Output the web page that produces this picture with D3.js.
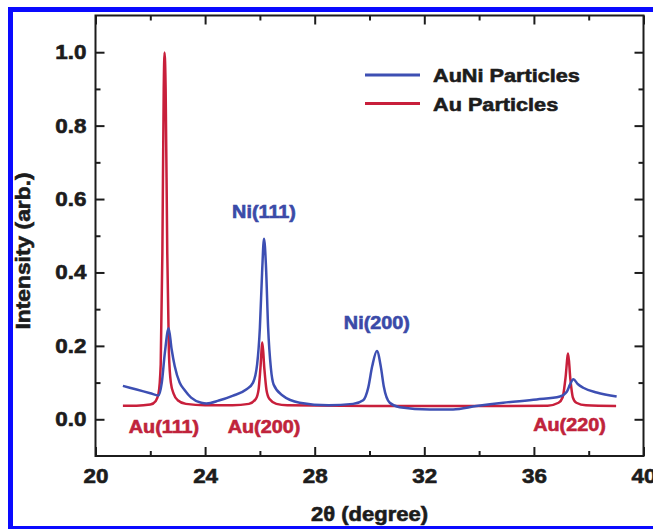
<!DOCTYPE html>
<html>
<head>
<meta charset="utf-8">
<script src="https://cdn.jsdelivr.net/npm/d3@7"></script>
<style>
  body { margin: 0; background: #fff; }
  svg { display: block; font-family: "Liberation Sans", Arial, sans-serif; font-weight: bold; }
</style>
</head>
<body>
<svg id="chart" width="653" height="529"></svg>
<script>
// ---- data ----
const xMajorTicks = [20, 24, 28, 32, 36, 40];
const xMinorTicks = [22, 26, 30, 34, 38];
const yMajorTicks = [0.0, 0.2, 0.4, 0.6, 0.8, 1.0];
const yMinorTicks = [0.1, 0.3, 0.5, 0.7, 0.9];

const seriesNames = ["AuNi Particles", "Au Particles"];

const auNi = [
  [21.0,0.091],[21.5,0.081],[22.0,0.071],[22.3,0.065],[22.42,0.10],[22.53,0.18],[22.67,0.248],
  [22.78,0.19],[22.89,0.145],[23.07,0.10],[23.25,0.08],[23.49,0.059],[23.86,0.045],[24.05,0.043],
  [24.5,0.051],[25.0,0.064],[25.5,0.081],[25.75,0.10],[25.9,0.15],[26.0,0.25],[26.08,0.40],
  [26.15,0.492],[26.22,0.42],[26.3,0.25],[26.4,0.14],[26.5,0.095],[26.84,0.064],[27.45,0.045],
  [28.5,0.038],[29.4,0.042],[29.77,0.052],[29.95,0.085],[30.1,0.145],[30.27,0.186],[30.42,0.14],
  [30.52,0.09],[30.74,0.045],[31.1,0.033],[32.2,0.027],[33.05,0.027],[33.9,0.036],[34.88,0.045],
  [36.1,0.054],[36.95,0.062],[37.2,0.075],[37.32,0.095],[37.44,0.109],[37.6,0.096],[37.8,0.086],
  [38.29,0.073],[39.02,0.062]
];

const au = [
  [21.0,0.037],[21.5,0.037],[22.0,0.040],[22.2,0.050],[22.3,0.070],[22.38,0.15],[22.44,0.45],
  [22.49,0.90],[22.52,0.999],[22.56,0.90],[22.62,0.45],[22.68,0.18],[22.75,0.10],[22.85,0.07],
  [23.0,0.052],[23.3,0.042],[24.0,0.038],[25.0,0.038],[25.6,0.042],[25.85,0.055],[25.95,0.08],
  [26.02,0.14],[26.09,0.209],[26.16,0.14],[26.24,0.08],[26.35,0.055],[26.6,0.042],[27.0,0.038],
  [30.0,0.036],[34.0,0.036],[36.5,0.037],[36.9,0.045],[37.05,0.06],[37.15,0.11],[37.25,0.179],
  [37.33,0.11],[37.42,0.06],[37.55,0.045],[37.9,0.038],[39.0,0.036]
];

const peakLabels = [
  { text: "Ni(111)", x: 26.15, y: 0.548, series: 0 },
  { text: "Ni(200)", x: 30.27, y: 0.245, series: 0 },
  { text: "Au(111)", x: 22.5,  y: -0.036, series: 1 },
  { text: "Au(200)", x: 26.15, y: -0.036, series: 1 },
  { text: "Au(220)", x: 37.3,  y: -0.033, series: 1 }
];

// ---- layout ----
const svg = d3.select("#chart");
const pLeft = 95.5, pRight = 643.5, pTop = 15.5, pBottom = 456;
const x = d3.scaleLinear().domain([20, 40]).range([pLeft, pRight]);
const y = d3.scaleLinear().domain([-0.1, 1.1]).range([pBottom, pTop]);

const colors = ["#3d4fb3", "#c81f3b"];
const textColors = ["#3b4aa8", "#c0233b"];
const ink = "#1c1c1c";

// blue outer frame
svg.append("rect").attr("x", 10.5).attr("y", 9.5).attr("width", 700).attr("height", 519)
  .attr("fill", "none").attr("stroke", "#0a0aff").attr("stroke-width", 5);

function stretch(sel, factor) {
  sel.each(function() {
    const l = this.getComputedTextLength();
    d3.select(this).attr("textLength", l * factor).attr("lengthAdjust", "spacingAndGlyphs");
  });
}
function heavy(sel) {
  sel.attr("stroke", function() { return d3.select(this).attr("fill"); })
     .attr("stroke-width", 0.6).attr("paint-order", "stroke");
}

// axes
function styleAxis(g) {
  g.select(".domain").remove();
  g.selectAll("line").attr("stroke", ink).attr("stroke-width", 2);
  g.selectAll("text").attr("fill", ink).style("font-size", "20px").style("font-weight", "bold")
    .style("font-family", "'Liberation Sans', Arial, sans-serif");
}

const gx = svg.append("g").attr("transform", `translate(0,${pBottom})`)
  .call(d3.axisBottom(x).tickValues(xMajorTicks).tickSize(-9).tickPadding(13).tickFormat(d3.format("d")));
styleAxis(gx); stretch(gx.selectAll("text"), 1.12); heavy(gx.selectAll("text"));
svg.append("g").attr("transform", `translate(0,${pBottom})`)
  .call(d3.axisBottom(x).tickValues(xMinorTicks).tickSize(-5).tickFormat("")).call(styleAxis);
svg.append("g").attr("transform", `translate(0,${pTop})`)
  .call(d3.axisTop(x).tickValues(xMajorTicks).tickSize(-9).tickFormat("")).call(styleAxis);
svg.append("g").attr("transform", `translate(0,${pTop})`)
  .call(d3.axisTop(x).tickValues(xMinorTicks).tickSize(-5).tickFormat("")).call(styleAxis);

const gy = svg.append("g").attr("transform", `translate(${pLeft},0)`)
  .call(d3.axisLeft(y).tickValues(yMajorTicks).tickSize(-9).tickPadding(9).tickFormat(d3.format(".1f")));
styleAxis(gy); stretch(gy.selectAll("text"), 1.12); heavy(gy.selectAll("text"));
svg.append("g").attr("transform", `translate(${pLeft},0)`)
  .call(d3.axisLeft(y).tickValues(yMinorTicks).tickSize(-5).tickFormat("")).call(styleAxis);
svg.append("g").attr("transform", `translate(${pRight},0)`)
  .call(d3.axisRight(y).tickValues(yMajorTicks).tickSize(-9).tickFormat("")).call(styleAxis);
svg.append("g").attr("transform", `translate(${pRight},0)`)
  .call(d3.axisRight(y).tickValues(yMinorTicks).tickSize(-5).tickFormat("")).call(styleAxis);

// frame
svg.append("rect").attr("x", pLeft).attr("y", pTop).attr("width", pRight - pLeft).attr("height", pBottom - pTop)
  .attr("fill", "none").attr("stroke", ink).attr("stroke-width", 2);

// lines
const line = d3.line().x(d => x(d[0])).y(d => y(d[1])).curve(d3.curveMonotoneX);
svg.append("path").datum(au).attr("d", line).attr("fill", "none")
  .attr("stroke", colors[1]).attr("stroke-width", 2.5).attr("stroke-linejoin", "round");
svg.append("path").datum(auNi).attr("d", line).attr("fill", "none")
  .attr("stroke", colors[0]).attr("stroke-width", 2.5).attr("stroke-linejoin", "round");

// peak labels
const pl = svg.selectAll(".peak").data(peakLabels).enter().append("text")
  .attr("x", d => x(d.x)).attr("y", d => y(d.y)).attr("text-anchor", "middle")
  .attr("fill", d => textColors[d.series]).style("font-size", "18px").text(d => d.text);
stretch(pl, 1.1); heavy(pl);

// legend
const legend = svg.append("g");
seriesNames.forEach((name, i) => {
  const ly = 75 + i * 28.5;
  legend.append("line").attr("x1", 365).attr("x2", 420).attr("y1", ly).attr("y2", ly)
    .attr("stroke", colors[i]).attr("stroke-width", 3);
  legend.append("text").attr("x", 433).attr("y", ly + 7).attr("fill", ink)
    .style("font-size", "19px").text(name);
});
stretch(legend.selectAll("text"), 1.14); heavy(legend.selectAll("text"));

// axis titles
const xt = svg.append("text").attr("x", (pLeft + pRight) / 2).attr("y", 521).attr("text-anchor", "middle")
  .attr("fill", ink).style("font-size", "20px").text("2θ (degree)");
stretch(xt, 1.1); heavy(xt);
const yt = svg.append("text").attr("transform", `translate(30,251) rotate(-90)`).attr("text-anchor", "middle")
  .attr("fill", ink).style("font-size", "20px").text("Intensity (arb.)");
stretch(yt, 1.14); heavy(yt);
</script>
</body>
</html>
